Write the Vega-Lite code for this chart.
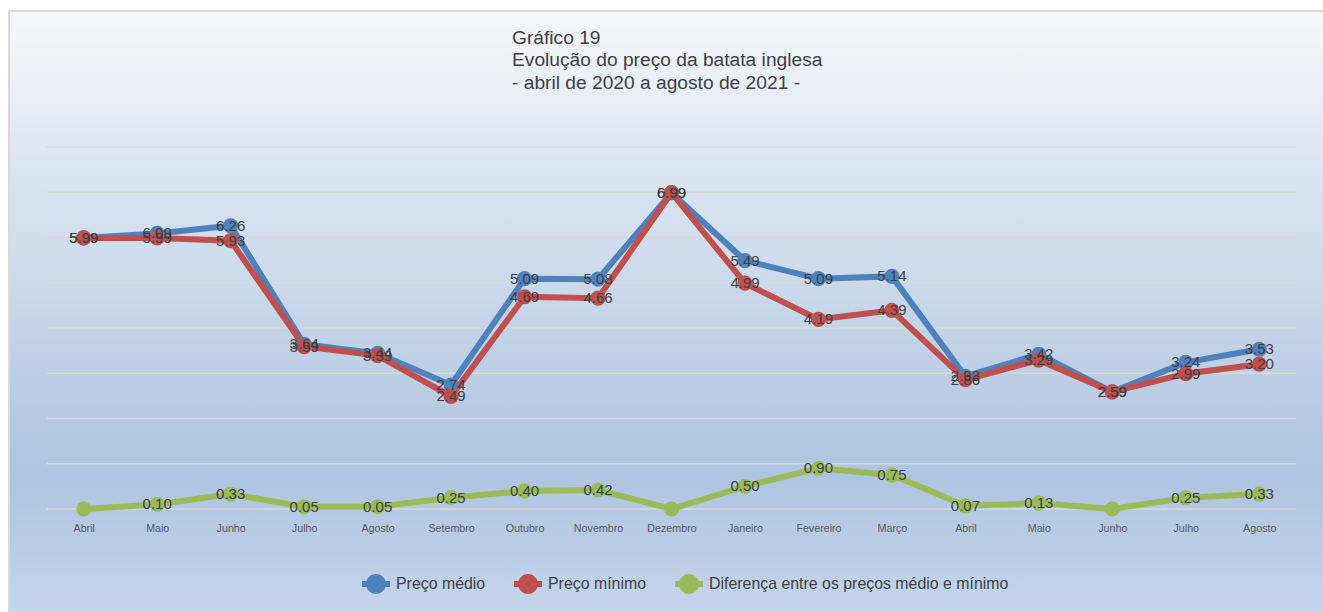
{
  "$schema": "https://vega.github.io/schema/vega-lite/v6.json",
  "autosize": {"type": "none"},
  "padding": {"left": 9, "top": 11, "right": 0, "bottom": 0},
  "width": 1330,
  "height": 620,
  "background": "#ffffff",
  "view": {
    "stroke": "#d9d9d9",
    "strokeWidth": 2,
    "fill": {
      "gradient": "linear",
      "x1": 0, "y1": 0, "x2": 0, "y2": 1,
      "stops": [
        {"offset": 0, "color": "#f5f8fb"},
        {"offset": 0.2, "color": "#e0e9f3"},
        {"offset": 0.75, "color": "#aec4e0"},
        {"offset": 1, "color": "#c7d8ec"}
      ]
    }
  },
  "title": {
    "text": ["Gráfico 19", "Evolução do preço da batata inglesa", "- abril de 2020 a agosto de 2021 -"],
    "orient": "top",
    "anchor": "start",
    "frame": "group",
    "baseline": "top",
    "offset": 0,
    "dx": 503,
    "dy": 82,
    "font": "Liberation Sans",
    "fontSize": 19.2,
    "fontWeight": "normal",
    "color": "#404040",
    "lineHeight": 22.5
  },
  "datasets": {
    "grade": [
      {"g": 0}, {"g": 1}, {"g": 2}, {"g": 3}, {"g": 4}, {"g": 5}, {"g": 6}, {"g": 7}, {"g": 8}
    ],
    "precos": [
      {"i": 0, "mes": "Abril", "serie": "Preço médio", "valor": 5.99},
      {"i": 1, "mes": "Maio", "serie": "Preço médio", "valor": 6.09},
      {"i": 2, "mes": "Junho", "serie": "Preço médio", "valor": 6.26},
      {"i": 3, "mes": "Julho", "serie": "Preço médio", "valor": 3.64},
      {"i": 4, "mes": "Agosto", "serie": "Preço médio", "valor": 3.44},
      {"i": 5, "mes": "Setembro", "serie": "Preço médio", "valor": 2.74},
      {"i": 6, "mes": "Outubro", "serie": "Preço médio", "valor": 5.09},
      {"i": 7, "mes": "Novembro", "serie": "Preço médio", "valor": 5.08},
      {"i": 8, "mes": "Dezembro", "serie": "Preço médio", "valor": 6.99},
      {"i": 9, "mes": "Janeiro", "serie": "Preço médio", "valor": 5.49},
      {"i": 10, "mes": "Fevereiro", "serie": "Preço médio", "valor": 5.09},
      {"i": 11, "mes": "Março", "serie": "Preço médio", "valor": 5.14},
      {"i": 12, "mes": "Abril", "serie": "Preço médio", "valor": 2.93},
      {"i": 13, "mes": "Maio", "serie": "Preço médio", "valor": 3.42},
      {"i": 14, "mes": "Junho", "serie": "Preço médio", "valor": 2.59},
      {"i": 15, "mes": "Julho", "serie": "Preço médio", "valor": 3.24},
      {"i": 16, "mes": "Agosto", "serie": "Preço médio", "valor": 3.53},
      {"i": 0, "mes": "Abril", "serie": "Preço mínimo", "valor": 5.99},
      {"i": 1, "mes": "Maio", "serie": "Preço mínimo", "valor": 5.99},
      {"i": 2, "mes": "Junho", "serie": "Preço mínimo", "valor": 5.93},
      {"i": 3, "mes": "Julho", "serie": "Preço mínimo", "valor": 3.59},
      {"i": 4, "mes": "Agosto", "serie": "Preço mínimo", "valor": 3.39},
      {"i": 5, "mes": "Setembro", "serie": "Preço mínimo", "valor": 2.49},
      {"i": 6, "mes": "Outubro", "serie": "Preço mínimo", "valor": 4.69},
      {"i": 7, "mes": "Novembro", "serie": "Preço mínimo", "valor": 4.66},
      {"i": 8, "mes": "Dezembro", "serie": "Preço mínimo", "valor": 6.99},
      {"i": 9, "mes": "Janeiro", "serie": "Preço mínimo", "valor": 4.99},
      {"i": 10, "mes": "Fevereiro", "serie": "Preço mínimo", "valor": 4.19},
      {"i": 11, "mes": "Março", "serie": "Preço mínimo", "valor": 4.39},
      {"i": 12, "mes": "Abril", "serie": "Preço mínimo", "valor": 2.86},
      {"i": 13, "mes": "Maio", "serie": "Preço mínimo", "valor": 3.29},
      {"i": 14, "mes": "Junho", "serie": "Preço mínimo", "valor": 2.59},
      {"i": 15, "mes": "Julho", "serie": "Preço mínimo", "valor": 2.99},
      {"i": 16, "mes": "Agosto", "serie": "Preço mínimo", "valor": 3.20},
      {"i": 0, "mes": "Abril", "serie": "Diferença entre os preços médio e mínimo", "valor": 0},
      {"i": 1, "mes": "Maio", "serie": "Diferença entre os preços médio e mínimo", "valor": 0.10},
      {"i": 2, "mes": "Junho", "serie": "Diferença entre os preços médio e mínimo", "valor": 0.33},
      {"i": 3, "mes": "Julho", "serie": "Diferença entre os preços médio e mínimo", "valor": 0.05},
      {"i": 4, "mes": "Agosto", "serie": "Diferença entre os preços médio e mínimo", "valor": 0.05},
      {"i": 5, "mes": "Setembro", "serie": "Diferença entre os preços médio e mínimo", "valor": 0.25},
      {"i": 6, "mes": "Outubro", "serie": "Diferença entre os preços médio e mínimo", "valor": 0.40},
      {"i": 7, "mes": "Novembro", "serie": "Diferença entre os preços médio e mínimo", "valor": 0.42},
      {"i": 8, "mes": "Dezembro", "serie": "Diferença entre os preços médio e mínimo", "valor": 0},
      {"i": 9, "mes": "Janeiro", "serie": "Diferença entre os preços médio e mínimo", "valor": 0.50},
      {"i": 10, "mes": "Fevereiro", "serie": "Diferença entre os preços médio e mínimo", "valor": 0.90},
      {"i": 11, "mes": "Março", "serie": "Diferença entre os preços médio e mínimo", "valor": 0.75},
      {"i": 12, "mes": "Abril", "serie": "Diferença entre os preços médio e mínimo", "valor": 0.07},
      {"i": 13, "mes": "Maio", "serie": "Diferença entre os preços médio e mínimo", "valor": 0.13},
      {"i": 14, "mes": "Junho", "serie": "Diferença entre os preços médio e mínimo", "valor": 0},
      {"i": 15, "mes": "Julho", "serie": "Diferença entre os preços médio e mínimo", "valor": 0.25},
      {"i": 16, "mes": "Agosto", "serie": "Diferença entre os preços médio e mínimo", "valor": 0.33}
    ]
  },
  "data": {"name": "precos"},
  "layer": [
    {
      "data": {"name": "grade"},
      "mark": {"type": "rule", "color": "#d9d9d9", "strokeWidth": 1.6},
      "encoding": {
        "y": {"field": "g", "type": "quantitative", "scale": {"domain": [0, 8], "range": [498, 136], "nice": false, "zero": false}, "axis": null},
        "x": {"datum": -0.5, "type": "quantitative"},
        "x2": {"datum": 16.5}
      }
    },
    {
      "mark": {"type": "line", "strokeWidth": 6, "interpolate": "linear"},
      "encoding": {
        "x": {
          "field": "i", "type": "quantitative",
          "scale": {"domain": [-0.5, 16.5], "range": [38, 1287], "nice": false, "zero": false},
          "axis": {
            "values": [0, 1, 2, 3, 4, 5, 6, 7, 8, 9, 10, 11, 12, 13, 14, 15, 16],
            "labelExpr": "['Abril','Maio','Junho','Julho','Agosto','Setembro','Outubro','Novembro','Dezembro','Janeiro','Fevereiro','Março','Abril','Maio','Junho','Julho','Agosto'][datum.value]",
            "title": null,
            "domain": false,
            "ticks": false,
            "tickSize": 0,
            "grid": false,
            "offset": -122,
            "labelPadding": 14,
            "labelFont": "Liberation Sans",
            "labelFontSize": 10.7,
            "labelColor": "#595959",
            "labelFlush": false,
            "labelOverlap": false
          }
        },
        "y": {"field": "valor", "type": "quantitative"},
        "color": {
          "field": "serie", "type": "nominal",
          "scale": {
            "domain": ["Preço médio", "Preço mínimo", "Diferença entre os preços médio e mínimo"],
            "range": ["#4f81bd", "#c0504d", "#9bbb59"]
          },
          "legend": {
            "orient": "none",
            "legendX": 353,
            "legendY": 559,
            "direction": "horizontal",
            "title": null,
            "padding": 0,
            "symbolType": "M-1,-0.21H-0.678A0.71,0.71,0,0,1,0.678,-0.21H1V0.21H0.678A0.71,0.71,0,0,1,-0.678,0.21H-1Z",
            "symbolSize": 784,
            "symbolStrokeWidth": 0,
            "symbolOpacity": 1,
            "labelFont": "Liberation Sans",
            "labelFontSize": 15.9,
            "labelColor": "#404040",
            "labelOffset": 6,
            "columnPadding": 28,
            "labelLimit": 400,
            "encode": {
              "symbols": {"update": {"fill": {"scale": "color", "field": "value"}, "strokeWidth": {"value": 0}}}
            }
          }
        },
        "order": {"field": "i"}
      }
    },
    {
      "mark": {"type": "point", "filled": true, "size": 230, "opacity": 1},
      "encoding": {
        "x": {"field": "i", "type": "quantitative"},
        "y": {"field": "valor", "type": "quantitative"},
        "color": {"field": "serie", "type": "nominal"}
      }
    },
    {
      "transform": [{"filter": "datum.valor > 0"}],
      "mark": {"type": "text", "font": "Liberation Sans", "fontSize": 15, "color": "#404040", "align": "center", "baseline": "middle"},
      "encoding": {
        "x": {"field": "i", "type": "quantitative"},
        "y": {"field": "valor", "type": "quantitative"},
        "text": {"field": "valor", "type": "quantitative", "format": ".2f"}
      }
    }
  ]
}
